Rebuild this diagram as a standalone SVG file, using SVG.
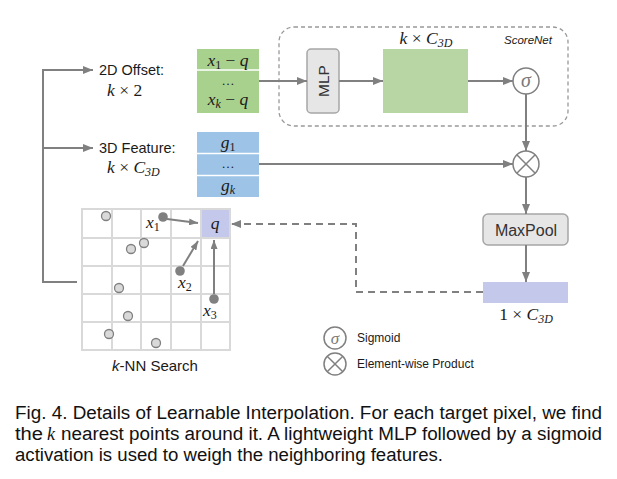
<svg xmlns="http://www.w3.org/2000/svg" width="617" height="479" viewBox="0 0 617 479">
<defs>
<marker id="ah" markerWidth="10" markerHeight="8" refX="10" refY="4" orient="auto" markerUnits="userSpaceOnUse"><path d="M0,0 L10,4 L0,8 z" fill="#808080"/></marker>
<marker id="ahs" markerWidth="9" markerHeight="7" refX="9" refY="3.5" orient="auto" markerUnits="userSpaceOnUse"><path d="M0,0 L9,3.5 L0,7 z" fill="#808080"/></marker>
<style>
.ln{fill:none;stroke:#808080;stroke-width:2}
.dash{fill:none;stroke:#808080;stroke-width:2;stroke-dasharray:7 5}
.lbl{font-family:"Liberation Sans",Arial,sans-serif;font-size:14.5px;fill:#1a1a1a}
.m{font-family:"Liberation Serif","DejaVu Serif",serif;font-style:italic;font-size:17.5px;fill:#1a1a1a}
.mu{font-family:"Liberation Serif","DejaVu Serif",serif;font-style:normal}
.dots{font-family:"Liberation Serif","DejaVu Serif",serif;font-size:13px;fill:#1a1a1a}
.sub{font-size:12px}
.box{fill:#e6e6e6;stroke:#a6a6a6;stroke-width:1.5}
.grid{stroke:#d9d9d9;stroke-width:2;fill:none}
.pt{fill:#d9d9d9;stroke:#808080;stroke-width:1.3}
.pd{fill:#808080}
.cap{font-family:"Liberation Sans",Arial,sans-serif;font-size:18px;fill:#111}
.sm{font-family:"Liberation Sans",Arial,sans-serif;font-size:12px;fill:#1a1a1a}
.circ{fill:#fff;stroke:#808080;stroke-width:1.5}
</style>
</defs>

<g id="scorenet">
<rect x="279" y="27" width="289" height="99" rx="15" fill="none" stroke="#999" stroke-width="1.3" stroke-dasharray="4 3"/>
<text x="504" y="44" style="font-family:'Liberation Sans',Arial,sans-serif;font-size:11.5px;font-style:italic;fill:#1a1a1a">ScoreNet</text>
</g>

<g id="offset-label">
<text class="lbl" x="99" y="75">2D Offset:</text>
<text class="m" x="107" y="96">k <tspan class="mu">× 2</tspan></text>
</g>

<g id="feature-label">
<text class="lbl" x="99" y="153">3D Feature:</text>
<text class="m" x="107" y="173">k <tspan class="mu">× </tspan>C<tspan class="sub" dy="3">3D</tspan></text>
</g>

<g id="offset-box">
<rect x="197" y="49" width="62" height="64" fill="#a9d18e"/>
<line x1="197" y1="70" x2="259" y2="70" stroke="#fff" stroke-width="1.5"/>
<text class="m" x="228" y="66" text-anchor="middle">x<tspan class="sub mu" dy="3">1</tspan><tspan class="mu" dy="-3"> − </tspan>q</text>
<text class="dots" x="228" y="85" text-anchor="middle">…</text>
<text class="m" x="228" y="105" text-anchor="middle">x<tspan class="sub" dy="3">k</tspan><tspan class="mu" dy="-3"> − </tspan>q</text>
</g>

<g id="feature-box">
<rect x="197" y="132" width="62" height="65" fill="#9dc3e6"/>
<line x1="197" y1="153.5" x2="259" y2="153.5" stroke="#fff" stroke-width="1.5"/>
<line x1="197" y1="175.5" x2="259" y2="175.5" stroke="#fff" stroke-width="1.5"/>
<text class="m" x="228" y="148" text-anchor="middle">g<tspan class="sub mu" dy="3">1</tspan></text>
<text class="dots" x="228" y="168" text-anchor="middle">…</text>
<text class="m" x="228" y="191" text-anchor="middle">g<tspan class="sub" dy="3">k</tspan></text>
</g>

<g id="mlp">
<rect class="box" x="307" y="49" width="32" height="64" rx="4"/>
<text x="0" y="0" transform="translate(328.5,81) rotate(-90)" text-anchor="middle" style="font-family:'Liberation Sans',Arial,sans-serif;font-size:15.5px;fill:#333">MLP</text>
</g>

<g id="score-box">
<rect x="383" y="49" width="85" height="64" fill="#b8d6a4"/>
<text class="m" x="426" y="44" text-anchor="middle">k <tspan class="mu">× </tspan>C<tspan class="sub" dy="3">3D</tspan></text>
</g>

<g id="sigmoid">
<circle class="circ" cx="526" cy="81" r="13"/>
<text x="526" y="87" text-anchor="middle" style="font-family:'Liberation Serif',serif;font-style:italic;font-size:20px;fill:#7a7a7a">σ</text>
</g>

<g id="product">
<circle class="circ" cx="526" cy="164" r="13"/>
<path d="M516.8,154.8 L535.2,173.2 M535.2,154.8 L516.8,173.2" stroke="#808080" stroke-width="1.5"/>
</g>

<g id="maxpool">
<rect class="box" x="483" y="214" width="85" height="31" rx="5"/>
<text x="526" y="235.5" text-anchor="middle" style="font-family:'Liberation Sans',Arial,sans-serif;font-size:16px;fill:#333">MaxPool</text>
</g>

<g id="output">
<rect x="483" y="282" width="85" height="21" fill="#c4c9eb"/>
<text class="m" x="526" y="320" text-anchor="middle"><tspan class="mu">1 × </tspan>C<tspan class="sub" dy="3">3D</tspan></text>
</g>

<g id="knn">
<rect x="201" y="209" width="29" height="29" fill="#c4c9eb"/>
<rect class="grid" x="82" y="209" width="148" height="141"/>
<path class="grid" d="M112,209V350 M141,209V350 M171,209V350 M201,209V350 M82,238H230 M82,266H230 M82,294H230 M82,322H230"/>
<text class="m" x="215" y="229" text-anchor="middle">q</text>
<circle class="pt" cx="106" cy="216" r="4.5"/>
<circle class="pt" cx="131" cy="249" r="4.5"/>
<circle class="pt" cx="144" cy="243" r="4.5"/>
<circle class="pt" cx="119" cy="288" r="4.5"/>
<circle class="pt" cx="128" cy="316" r="4.5"/>
<circle class="pt" cx="109" cy="334" r="4.5"/>
<circle class="pt" cx="156" cy="343" r="4.5"/>
<circle class="pd" cx="163" cy="217" r="4.8"/>
<circle class="pd" cx="180" cy="271" r="4.8"/>
<circle class="pd" cx="214" cy="299" r="4.8"/>
<text class="m" x="146" y="228">x<tspan class="sub mu" dy="3">1</tspan></text>
<text class="m" x="178" y="288">x<tspan class="sub mu" dy="3">2</tspan></text>
<text class="m" x="203" y="316">x<tspan class="sub mu" dy="3">3</tspan></text>
<text x="155" y="371" text-anchor="middle" style="font-family:'Liberation Sans',Arial,sans-serif;font-size:15px;fill:#1a1a1a"><tspan font-style="italic">k</tspan>-NN Search</text>
</g>

<g id="legend">
<circle class="circ" cx="335" cy="338" r="11"/>
<text x="335" y="343.5" text-anchor="middle" style="font-family:'Liberation Serif',serif;font-style:italic;font-size:17px;fill:#7a7a7a">σ</text>
<text class="sm" x="357" y="342">Sigmoid</text>
<circle class="circ" cx="335" cy="364" r="11"/>
<path d="M327.2,356.2 L342.8,371.8 M342.8,356.2 L327.2,371.8" stroke="#808080" stroke-width="1.5"/>
<text class="sm" x="357" y="368">Element-wise Product</text>
</g>

<g id="connectors">
<path class="ln" d="M77,282 H43 V70 H93" marker-end="url(#ah)"/>
<path class="ln" d="M43,148 H93" marker-end="url(#ah)"/>
<path class="ln" d="M259,81 H307" marker-end="url(#ah)"/>
<path class="ln" d="M339,81 H383" marker-end="url(#ah)"/>
<path class="ln" d="M468,81 H513" marker-end="url(#ah)"/>
<path class="ln" d="M526,94 V151" marker-end="url(#ah)"/>
<path class="ln" d="M259,164 H513" marker-end="url(#ah)"/>
<path class="ln" d="M526,177 V214" marker-end="url(#ah)"/>
<path class="ln" d="M526,245 V282" marker-end="url(#ah)"/>
<path class="dash" d="M483,292 H356 V224 H231" marker-end="url(#ah)"/>
<path class="ln" stroke-width="1.5" d="M167,219 L198,223" marker-end="url(#ahs)"/>
<path class="ln" stroke-width="1.5" d="M183,266 L198,241" marker-end="url(#ahs)"/>
<path class="ln" stroke-width="1.5" d="M214,294 V240" marker-end="url(#ahs)"/>
</g>

<g id="caption">
<text class="cap" x="15" y="419" textLength="587" lengthAdjust="spacingAndGlyphs">Fig. 4. Details of Learnable Interpolation. For each target pixel, we find</text>
<text class="cap" x="15" y="440" textLength="28" lengthAdjust="spacingAndGlyphs">the</text>
<text x="47" y="440" style="font-family:'Liberation Serif',serif;font-style:italic;font-size:18px;fill:#111">k</text>
<text class="cap" x="61" y="440" textLength="541" lengthAdjust="spacingAndGlyphs">nearest points around it. A lightweight MLP followed by a sigmoid</text>
<text class="cap" x="15" y="461" textLength="428" lengthAdjust="spacingAndGlyphs">activation is used to weigh the neighboring features.</text>
</g>
</svg>
